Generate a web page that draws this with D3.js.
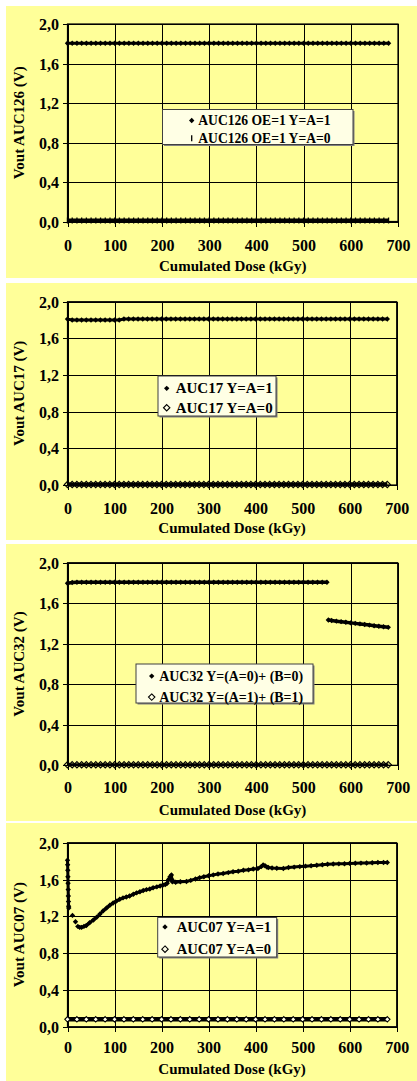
<!DOCTYPE html>
<html>
<head>
<meta charset="utf-8">
<script src="https://cdn.jsdelivr.net/npm/d3@7"></script>
<style>
  html, body { margin: 0; padding: 0; background: #fff; }
  svg { display: block; }
  text { font-family: "Liberation Serif", "Times New Roman", serif; font-weight: bold; fill: #000; }
</style>
</head>
<body>
<svg id="chart" width="417" height="1081"></svg>
<script>
// ---- tick labels ----
const xTicks = [0, 100, 200, 300, 400, 500, 600, 700];
const yTicks = [0, 0.4, 0.8, 1.2, 1.6, 2.0];

// ---- common dose grid (kGy) ----
const doseGrid = [0,10,20,30,40,50,60,70,80,90,100,110,120,130,140,150,160,170,180,190,
  200,210,220,230,240,250,260,270,280,290,300,310,320,330,340,350,360,370,380,390,
  400,410,420,430,440,450,460,470,480,490,500,510,520,530,540,550,560,570,580,590,
  600,610,620,630,640,650,660,670,680];

// ---- AUC126 ----
const auc126High = [1.805,1.805,1.805,1.805,1.805,1.805,1.805,1.805,1.805,1.805,
  1.805,1.805,1.805,1.805,1.805,1.805,1.805,1.805,1.805,1.805,
  1.805,1.805,1.805,1.805,1.805,1.805,1.805,1.805,1.805,1.805,
  1.805,1.805,1.805,1.805,1.805,1.805,1.805,1.805,1.805,1.805,
  1.805,1.805,1.805,1.805,1.805,1.805,1.805,1.805,1.805,1.805,
  1.805,1.805,1.805,1.805,1.805,1.805,1.805,1.805,1.805,1.805,
  1.805,1.805,1.805,1.805,1.805,1.805,1.805,1.805,1.805];
const auc126Low = [0.01,0.01,0.01,0.01,0.01,0.01,0.01,0.01,0.01,0.01,
  0.01,0.01,0.01,0.01,0.01,0.01,0.01,0.01,0.01,0.01,
  0.01,0.01,0.01,0.01,0.01,0.01,0.01,0.01,0.01,0.01,
  0.01,0.01,0.01,0.01,0.01,0.01,0.01,0.01,0.01,0.01,
  0.01,0.01,0.01,0.01,0.01,0.01,0.01,0.01,0.01,0.01,
  0.01,0.01,0.01,0.01,0.01,0.01,0.01,0.01,0.01,0.01,
  0.01,0.01,0.01,0.01,0.01,0.01,0.01,0.01,0.01];

// ---- AUC17 ----
const auc17High = [1.81,1.80,1.80,1.80,1.80,1.80,1.80,1.80,1.80,1.80,
  1.80,1.80,1.812,1.812,1.812,1.812,1.812,1.812,1.812,1.812,
  1.812,1.812,1.812,1.812,1.812,1.812,1.812,1.812,1.812,1.812,
  1.812,1.812,1.812,1.812,1.812,1.812,1.812,1.812,1.812,1.812,
  1.812,1.812,1.812,1.812,1.812,1.812,1.812,1.812,1.812,1.812,
  1.812,1.812,1.812,1.812,1.812,1.812,1.812,1.812,1.812,1.812,
  1.812,1.812,1.812,1.812,1.812,1.812,1.812,1.812,1.812];
const auc17Low = [0.005,0.005,0.005,0.005,0.005,0.005,0.005,0.005,0.005,0.005,
  0.005,0.005,0.005,0.005,0.005,0.005,0.005,0.005,0.005,0.005,
  0.005,0.005,0.005,0.005,0.005,0.005,0.005,0.005,0.005,0.005,
  0.005,0.005,0.005,0.005,0.005,0.005,0.005,0.005,0.005,0.005,
  0.005,0.005,0.005,0.005,0.005,0.005,0.005,0.005,0.005,0.005,
  0.005,0.005,0.005,0.005,0.005,0.005,0.005,0.005,0.005,0.005,
  0.005,0.005,0.005,0.005,0.005,0.005,0.005,0.005,0.005];

// ---- AUC32 (output drops after ~550 kGy; null marks the gap) ----
const dose32High = [0,10,20,30,40,50,60,70,80,90,100,110,120,130,140,150,160,170,180,190,
  200,210,220,230,240,250,260,270,280,290,300,310,320,330,340,350,360,370,380,390,
  400,410,420,430,440,450,460,470,480,490,500,510,520,530,540,550,551,
  553,560,570,580,590,600,610,620,630,640,650,660,670,680];
const auc32High = [1.797,1.805,1.807,1.807,1.807,1.807,1.807,1.807,1.807,1.807,
  1.807,1.807,1.807,1.807,1.807,1.807,1.807,1.807,1.807,1.807,
  1.807,1.807,1.807,1.807,1.807,1.807,1.807,1.807,1.807,1.807,
  1.807,1.807,1.807,1.807,1.807,1.807,1.807,1.807,1.807,1.807,
  1.807,1.807,1.807,1.807,1.807,1.807,1.807,1.807,1.807,1.807,
  1.807,1.807,1.807,1.807,1.807,1.807,null,
  1.434,1.429,1.423,1.418,1.412,1.406,1.401,1.396,1.390,1.384,1.378,1.372,1.367,1.362];
const auc32Low = [0.005,0.005,0.005,0.005,0.005,0.005,0.005,0.005,0.005,0.005,
  0.005,0.005,0.005,0.005,0.005,0.005,0.005,0.005,0.005,0.005,
  0.005,0.005,0.005,0.005,0.005,0.005,0.005,0.005,0.005,0.005,
  0.005,0.005,0.005,0.005,0.005,0.005,0.005,0.005,0.005,0.005,
  0.005,0.005,0.005,0.005,0.005,0.005,0.005,0.005,0.005,0.005,
  0.005,0.005,0.005,0.005,0.005,0.005,0.005,0.005,0.005,0.005,
  0.005,0.005,0.005,0.005,0.005,0.005,0.005,0.005,0.005];

// ---- AUC07 (nulls separate the isolated early readings) ----
const dose07High = [0,0.3,0.6,0.9,1.2,1.5,1.8,2.1,2.4,2.7,5,10.6,14,17,19.5,
  22,26,30,35,40,47,55,62,69,76,83,90,97,104,111,118,125,132,140,147,154,161,168,175,182,
  190,197,203,208,212,215,218,221,222,223,230,240,253,262,272,281,290,300,310,320,
  331,342,352,363,374,385,395,405,412,416,420,424,427,435,445,459,470,482,494,506,
  518,530,542,553,565,577,589,600,612,624,636,648,660,672,680];
const auc07High = [1.81,1.76,1.70,1.63,1.56,1.49,1.42,1.36,1.31,1.29,null,1.21,null,1.14,null,
  1.09,1.08,1.08,1.09,1.10,1.13,1.16,1.19,1.225,1.26,1.29,1.32,1.345,1.365,1.385,1.40,1.41,1.42,1.44,1.455,1.467,1.48,1.49,1.497,1.51,
  1.52,1.53,1.54,1.545,1.56,1.60,1.63,1.65,1.60,1.575,1.57,1.575,1.578,1.59,1.605,1.62,1.63,1.64,1.65,1.66,
  1.665,1.675,1.685,1.69,1.70,1.705,1.714,1.72,1.74,1.757,1.75,1.735,1.73,1.725,1.723,1.72,1.73,1.735,1.74,1.745,
  1.75,1.755,1.76,1.765,1.768,1.77,1.772,1.775,1.777,1.778,1.78,1.782,1.784,1.785,1.785];
const dose07Low = [0,20,40,60,80,100,120,140,160,180,200,220,240,260,280,300,320,340,
  360,380,400,420,440,460,480,500,520,540,560,580,600,620,640,660,680];
const auc07Low = [0.08,0.08,0.08,0.08,0.08,0.08,0.08,0.08,0.08,0.08,0.08,0.08,0.08,0.08,0.08,0.08,0.08,0.08,
  0.08,0.08,0.08,0.08,0.08,0.08,0.08,0.08,0.08,0.08,0.08,0.08,0.08,0.08,0.08,0.08,0.08];

// ---- panel layout ----
const panels = [
  { bg: [6, 6, 411, 272], l: 67.5, r: 398, t: 24, b: 221.5, tickY: 251, titleY: 271,
    yTitle: "Vout AUC126 (V)",
    legend: { x: 162.5, y: 109.5, w: 190.5, h: 35, fs: 13.6, mx: 191.7, tx: 198.3, rows: [125, 142.7] },
    series: [
      { name: "AUC126 OE=1 Y=A=1", dose: doseGrid, vals: auc126High, marker: "diamond", lw: 3 },
      { name: "AUC126 OE=1 Y=A=0", dose: doseGrid, vals: auc126Low, marker: "bar", lw: 4 }
    ] },
  { bg: [6, 283, 411, 257], l: 67.5, r: 396.7, t: 301.7, b: 485, tickY: 514, titleY: 532.7,
    yTitle: "Vout AUC17 (V)",
    legend: { x: 158, y: 376, w: 118, h: 40, fs: 15, mx: 166.7, tx: 175.7, rows: [393.3, 412.7] },
    series: [
      { name: "AUC17 Y=A=1", dose: doseGrid, vals: auc17High, marker: "diamond", lw: 3 },
      { name: "AUC17 Y=A=0", dose: doseGrid, vals: auc17Low, marker: "open", lw: 4, hollow: true }
    ] },
  { bg: [6, 544, 411, 277], l: 67.5, r: 397.7, t: 562.7, b: 765.3, tickY: 793.3, titleY: 815,
    yTitle: "Vout AUC32 (V)",
    legend: { x: 136, y: 664, w: 177, h: 39, fs: 13.9, mx: 151.7, tx: 159.3, rows: [680.7, 701.7] },
    series: [
      { name: "AUC32 Y=(A=0)+ (B=0)", dose: dose32High, vals: auc32High, marker: "diamond", lw: 3.5 },
      { name: "AUC32 Y=(A=1)+ (B=1)", dose: doseGrid, vals: auc32Low, marker: "open", lw: 3, hollow: true }
    ] },
  { bg: [6, 823, 411, 258], l: 67.5, r: 396.7, t: 842.7, b: 1026.7, tickY: 1053.3, titleY: 1074,
    yTitle: "Vout AUC07 (V)",
    legend: { x: 157.7, y: 917.5, w: 119, h: 39.5, fs: 14.6, mx: 165, tx: 176.7, rows: [931.7, 954] },
    series: [
      { name: "AUC07 Y=A=1", dose: dose07High, vals: auc07High, marker: "diamond", lw: 3 },
      { name: "AUC07 Y=A=0", dose: dose07Low, vals: auc07Low, marker: "open", lw: 4.5, small: true }
    ] }
];

const fmtY = d3.formatLocale({ decimal: ",", thousands: ".", grouping: [3], currency: ["", ""] }).format(".1f");
const svg = d3.select("#chart");

function drawMarker(sel, type, opts = {}) {
  if (type === "diamond") {
    sel.append("path").attr("d", "M0,-2.7L2.7,0L0,2.7L-2.7,0Z").attr("fill", "#000");
  } else if (type === "open") {
    const r = opts.small ? 2.7 : 3.2;
    sel.append("path").attr("d", `M0,${-r}L${r},0L0,${r}L${-r},0Z`)
      .attr("fill", opts.hollow ? "none" : "#ffffe8").attr("stroke", "#000").attr("stroke-width", 1.1);
  } else {
    sel.append("line").attr("y1", -3).attr("y2", 3).attr("stroke", "#000").attr("stroke-width", 1.3);
  }
}

panels.forEach(p => {
  const g = svg.append("g");
  g.append("rect").attr("x", p.bg[0]).attr("y", p.bg[1]).attr("width", p.bg[2]).attr("height", p.bg[3])
    .attr("fill", "#ffff99");

  const x = d3.scaleLinear().domain([0, 700]).range([p.l, p.r]);
  const y = d3.scaleLinear().domain([0, 2]).range([p.b, p.t]);

  // vertical gridlines with outward ticks
  const xa = g.append("g").attr("transform", `translate(0,${p.b + 5})`)
    .call(d3.axisBottom(x).tickValues(xTicks).tickSize(-(p.b - p.t + 5)).tickFormat(d3.format("d")));
  xa.select(".domain").remove();
  xa.selectAll(".tick line").attr("stroke", "#000").attr("shape-rendering", "crispEdges");
  xa.selectAll(".tick text").attr("y", p.tickY - p.b - 5).attr("dy", null)
    .attr("font-size", 16).attr("font-family", null);
  xa.attr("font-family", null).attr("font-size", null);

  // horizontal gridlines with outward ticks
  const ya = g.append("g").attr("transform", `translate(${p.l - 4.5},0)`)
    .call(d3.axisLeft(y).tickValues(yTicks).tickSize(-(p.r - p.l + 4.5)).tickPadding(3.9).tickFormat(fmtY));
  ya.select(".domain").remove();
  ya.selectAll(".tick line").attr("stroke", "#000").attr("shape-rendering", "crispEdges");
  ya.selectAll(".tick text").attr("dy", "0.35em").attr("font-size", 16);
  ya.attr("font-family", null).attr("font-size", null);

  // plot frame
  g.append("rect").attr("x", p.l).attr("y", p.t).attr("width", p.r - p.l).attr("height", p.b - p.t)
    .attr("fill", "none").attr("stroke", "#000").attr("stroke-width", 1.2);

  // axis titles
  g.append("text").attr("x", (p.l + p.r) / 2).attr("y", p.titleY).attr("text-anchor", "middle")
    .attr("font-size", 15).text("Cumulated Dose (kGy)");
  g.append("text").attr("transform", `translate(19,${(p.t + p.b) / 2}) rotate(-90)`)
    .attr("text-anchor", "middle").attr("dy", "0.35em").attr("font-size", 15).text(p.yTitle);

  // series
  const line = d3.line().defined(d => d[1] != null).x(d => x(d[0])).y(d => y(d[1]));
  p.series.forEach(s => {
    const pts = s.dose.map((d, i) => [d, s.vals[i]]);
    g.append("path").attr("d", line(pts)).attr("fill", "none").attr("stroke", "#000")
      .attr("stroke-width", s.lw).attr("stroke-linejoin", "round");
    g.append("g").selectAll("g").data(pts.filter(d => d[1] != null)).join("g")
      .attr("transform", d => `translate(${x(d[0])},${y(d[1])})`)
      .each(function () { drawMarker(d3.select(this), s.marker, { hollow: s.hollow, small: s.small }); });
  });

  // legend
  const L = p.legend;
  g.append("rect").attr("x", L.x + 1.5).attr("y", L.y + 1.5).attr("width", L.w).attr("height", L.h).attr("fill", "#808080");
  g.append("rect").attr("x", L.x).attr("y", L.y).attr("width", L.w).attr("height", L.h)
    .attr("fill", "#ffffe5").attr("stroke", "#404040").attr("stroke-width", 1);
  p.series.forEach((s, i) => {
    const cy = L.rows[i] - L.fs * 0.33;
    drawMarker(g.append("g").attr("transform", `translate(${L.mx},${cy})`), s.marker);
    g.append("text").attr("x", L.tx).attr("y", L.rows[i]).attr("font-size", L.fs).text(s.name);
  });
});
</script>
</body>
</html>
